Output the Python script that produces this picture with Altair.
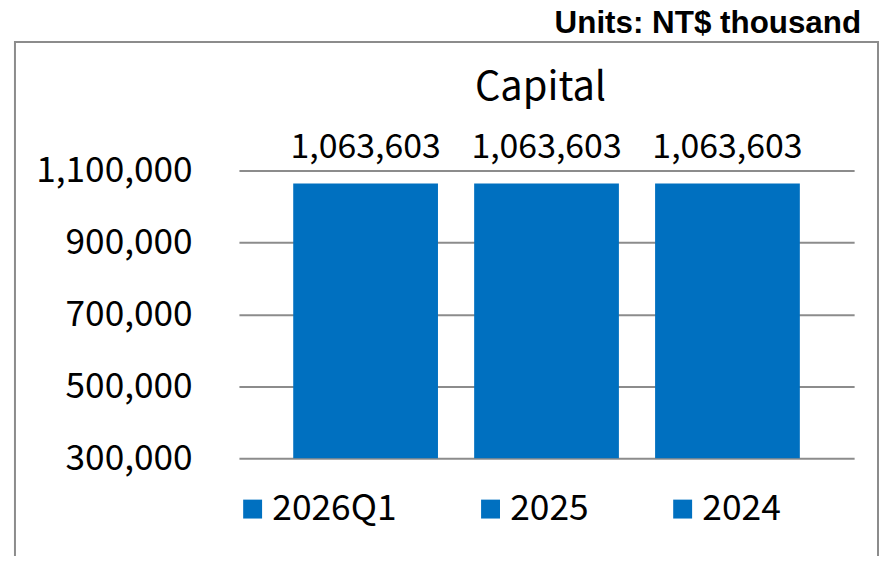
import altair as alt
import pandas as pd

categories = ["2026Q1", "2025", "2024"]
values = [1063603, 1063603, 1063603]
y_ticks = [300000, 500000, 700000, 900000, 1100000]
chart_title = "Capital"
units_text = "Units: NT$ thousand"

df = pd.DataFrame({"period": categories, "capital": values})

FONT = "Noto Sans CJK TC"
BLUE = "#0070C0"
GRID = "#8c8c8c"

x_enc = alt.X("period:N", sort=categories, axis=None,
              scale=alt.Scale(paddingInner=0.2, paddingOuter=0.3))
y_enc = alt.Y("capital:Q",
              scale=alt.Scale(domain=[300000, 1100000], nice=False, zero=False),
              axis=alt.Axis(values=y_ticks, format=",.0f", title=None, grid=True,
                            gridColor=GRID, gridWidth=2, domain=False, ticks=False,
                            labelPadding=47, labelFont=FONT, labelFontSize=35.4,
                            labelColor="black"))

bars = alt.Chart(df).mark_bar(color=BLUE, clip=True).encode(
    x=x_enc,
    y=y_enc,
    color=alt.Color("period:N", sort=categories,
                    scale=alt.Scale(domain=categories, range=[BLUE, BLUE, BLUE]),
                    legend=alt.Legend(title=None, orient="none", legendX=-4, legendY=322,
                                      direction="horizontal", symbolType="square",
                                      symbolSize=361, symbolStrokeWidth=0,
                                      symbolOpacity=1, labelOffset=2,
                                      columnPadding=76, labelFont=FONT,
                                      labelFontSize=35.5, labelColor="black",
                                      padding=0)),
)

labels = alt.Chart(df).mark_text(font=FONT, fontSize=34, color="black",
                                 baseline="alphabetic", dy=-26).encode(
    x=x_enc,
    y=y_enc,
    text=alt.Text("capital:Q", format=","),
)

border = alt.Chart(pd.DataFrame({"k": [0]})).mark_rect(
    filled=False, stroke=GRID, strokeWidth=2).encode(
    x=alt.value(-225), x2=alt.value(642), y=alt.value(-129), y2=alt.value(520))

title_text = alt.Chart(pd.DataFrame({"t": [chart_title]})).mark_text(
    font=FONT, fontSize=40, color="black", align="center", baseline="alphabetic").encode(
    x=alt.value(303), y=alt.value(-71), text="t:N")

units = alt.Chart(pd.DataFrame({"t": [units_text]})).mark_text(
    font="Liberation Sans", fontWeight="bold", fontSize=31.5, color="black",
    align="right", baseline="alphabetic").encode(
    x=alt.value(625), y=alt.value(-138), text="t:N")

chart = alt.layer(border, bars, labels, title_text, units).properties(
    width=618, height=289,
    autosize=alt.AutoSizeParams(type="none"),
    padding={"left": 232, "top": 162, "right": 26, "bottom": 97},
).configure_view(stroke=None)

chart.save("out.html", embed_options={"renderer": "svg", "actions": False})
